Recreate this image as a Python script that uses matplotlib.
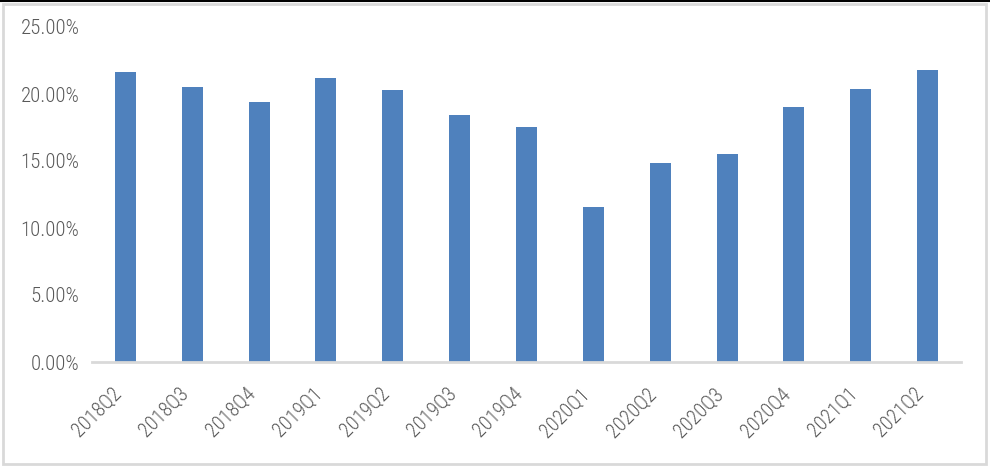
import matplotlib
matplotlib.use("Agg")
import matplotlib.pyplot as plt
from matplotlib.ticker import PercentFormatter
from matplotlib.patches import Rectangle

quarters = ["2018Q2", "2018Q3", "2018Q4", "2019Q1", "2019Q2", "2019Q3", "2019Q4",
            "2020Q1", "2020Q2", "2020Q3", "2020Q4", "2021Q1", "2021Q2"]
ratios = [21.64, 20.52, 19.40, 21.19, 20.30, 18.43, 17.54,
          11.57, 14.85, 15.52, 19.03, 20.37, 21.79]

plt.rcParams['font.family'] = ['Arial Narrow', 'Liberation Sans Narrow', 'Roboto Condensed',
                               'Archivo Narrow', 'DejaVu Sans']
plt.rcParams['font.weight'] = 'light'

fig = plt.figure(figsize=(9.9, 4.68), dpi=100)
ax = fig.add_axes([92 / 990, 1 - 362 / 468, (961 - 92) / 990, (362 - 27) / 468])

#Bars for each quarter
x = range(len(quarters))
ax.bar(x, ratios, width=0.314, color='#4F81BD', zorder=2)

ax.set_xlim(-0.5, len(quarters) - 0.5)
ax.set_ylim(0, 25)
ax.set_yticks([0, 5, 10, 15, 20, 25])
ax.yaxis.set_major_formatter(PercentFormatter(decimals=2))
ax.set_xticks(list(x))
ax.set_xticklabels(quarters, rotation=45, ha='right')

for s in ['top', 'right', 'left']:
    ax.spines[s].set_visible(False)
ax.spines['bottom'].set_color('#D9D9D9')
ax.spines['bottom'].set_linewidth(2)
ax.tick_params(axis='both', length=0, colors='#595959', labelsize=15)
ax.tick_params(axis='x', labelsize=14.5)
ax.tick_params(axis='y', pad=9)
ax.tick_params(axis='x', pad=16)

#Frame around the whole picture
fig.patches.append(Rectangle((3 / 990, 4 / 468), 983 / 990, 460 / 468, transform=fig.transFigure,
                             fill=False, edgecolor='#D9D9D9', linewidth=2))
fig.add_artist(plt.Line2D([0, 1], [1 - 1 / 468, 1 - 1 / 468], transform=fig.transFigure,
                          color='black', linewidth=1.5))

plt.savefig("out.png", dpi=100)
